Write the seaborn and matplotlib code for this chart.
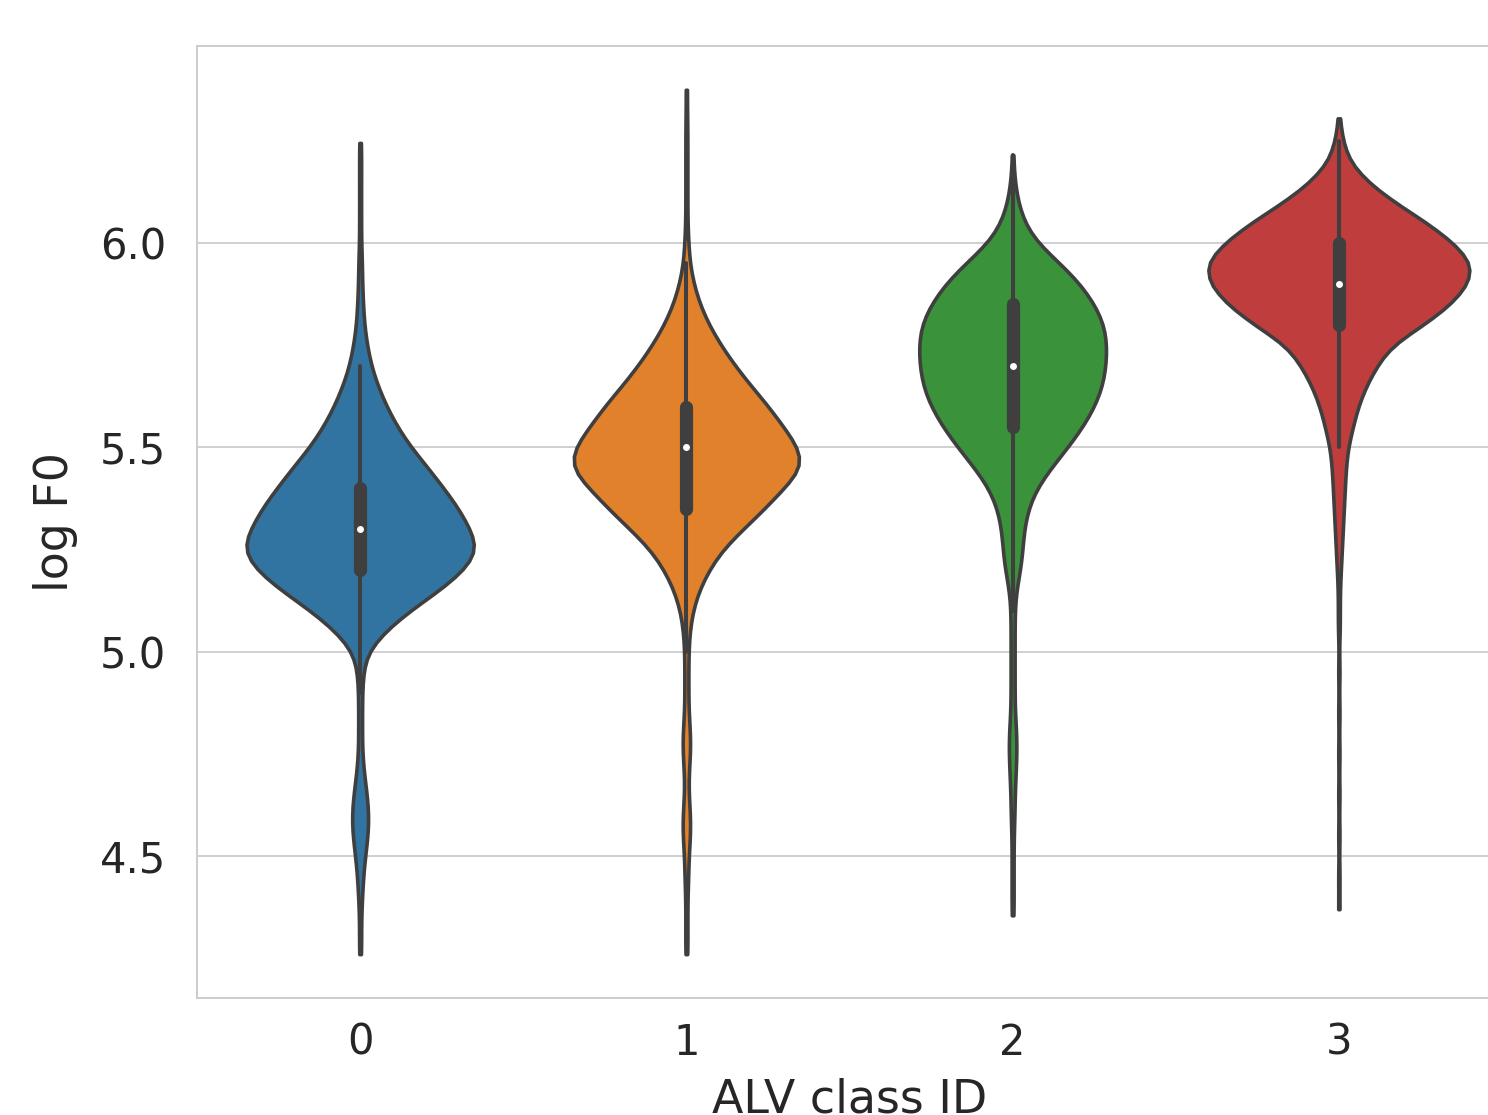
import numpy as np
import pandas as pd
import matplotlib
matplotlib.use("Agg")
import matplotlib.pyplot as plt
from matplotlib.colors import to_rgb
import seaborn as sns

# ==========================================
# DATA: log F0 per ALV class
# values = bin centres, counts = frames in that bin
# ==========================================
classes = ["0", "1", "2", "3"]

class0_logf0 = [4.26, 4.30, 4.35, 4.40, 4.45, 4.50, 4.55, 4.60, 4.65, 4.70, 4.75, 4.80,
                4.85, 4.90, 4.95, 5.00, 5.05, 5.10, 5.15, 5.20, 5.25, 5.30, 5.35, 5.40,
                5.45, 5.50, 5.55, 5.60, 5.65, 5.70, 5.75, 5.80, 5.85, 5.90, 5.95, 6.00,
                6.05, 6.10, 6.15, 6.20, 6.245]
class0_counts = [1, 1, 1, 2, 3, 5, 8, 9, 7, 4, 2, 2,
                 2, 2, 3, 6, 25, 50, 82, 108, 124, 113, 102, 86,
                 70, 52, 38, 27, 18, 11, 7, 4, 3, 2, 2, 1,
                 1, 1, 1, 1, 1]

class1_logf0 = [4.26, 4.30, 4.35, 4.40, 4.45, 4.50, 4.55, 4.60, 4.65, 4.70, 4.75, 4.80,
                4.85, 4.90, 4.95, 5.00, 5.05, 5.10, 5.15, 5.20, 5.25, 5.30, 5.35, 5.40,
                5.45, 5.50, 5.55, 5.60, 5.65, 5.70, 5.75, 5.80, 5.85, 5.90, 5.95, 6.00,
                6.05, 6.10, 6.15, 6.20, 6.25, 6.30, 6.375]
class1_counts = [1, 1, 1, 1, 2, 2, 4, 4, 2, 2, 4, 4,
                 2, 2, 2, 2, 3, 6, 12, 22, 35, 56, 78, 96,
                 118, 112, 96, 82, 64, 48, 34, 22, 13, 7, 3, 2,
                 1, 1, 1, 1, 1, 1, 1]

class2_logf0 = [4.355, 4.40, 4.45, 4.50, 4.55, 4.60, 4.65, 4.70, 4.75, 4.80, 4.85, 4.90,
                4.95, 5.00, 5.05, 5.10, 5.15, 5.20, 5.25, 5.30, 5.35, 5.40, 5.45, 5.50,
                5.55, 5.60, 5.65, 5.70, 5.75, 5.80, 5.85, 5.90, 5.95, 6.00, 6.05, 6.10,
                6.15, 6.215]
class2_counts = [1, 1, 1, 1, 1, 2, 2, 3, 4, 4, 2, 2,
                 2, 2, 2, 2, 3, 8, 10, 11, 15, 23, 38, 55,
                 70, 82, 90, 93, 94, 92, 82, 68, 48, 23, 11, 5,
                 2, 1]

class3_logf0 = [4.37, 4.45, 4.55, 4.65, 4.75, 4.85, 4.95, 5.05, 5.10, 5.15, 5.20, 5.25,
                5.30, 5.35, 5.40, 5.45, 5.50, 5.55, 5.60, 5.65, 5.70, 5.75, 5.80, 5.85,
                5.90, 5.95, 6.00, 6.05, 6.10, 6.15, 6.20, 6.25, 6.305]
class3_counts = [1, 1, 1, 1, 1, 1, 1, 1, 1, 1, 2, 3,
                 4, 5, 6, 7, 9, 14, 19, 27, 38, 52, 85, 112,
                 130, 134, 115, 88, 55, 28, 10, 4, 1]

values = [class0_logf0, class1_logf0, class2_logf0, class3_logf0]
counts = [class0_counts, class1_counts, class2_counts, class3_counts]

df = pd.concat([
    pd.DataFrame({"ALV": c, "logF0": np.repeat(v, n)})
    for c, v, n in zip(classes, values, counts)
], ignore_index=True)

# ==========================================
# PLOT
# ==========================================
sns.set_style("whitegrid")
plt.rcParams.update({
    "font.family": ["DejaVu Sans"],
    "xtick.labelsize": 30,
    "ytick.labelsize": 30,
    "axes.labelsize": 33,
    "xtick.major.size": 0,
    "ytick.major.size": 0,
    "xtick.major.pad": 17,
    "ytick.major.pad": 22,
    "grid.linewidth": 1.4,
    "axes.linewidth": 1.4,
    "grid.color": "#d0d0d0",
    "axes.edgecolor": "#cccccc",
})

fig = plt.figure(figsize=(14.88, 11.15), dpi=100)
ax = fig.add_axes([0.1324, 0.1049, 0.877, 0.8538])

sns.violinplot(
    data=df, x="ALV", y="logF0",
    hue="ALV", order=classes, hue_order=classes,
    palette="tab10", legend=False,
    cut=0, width=0.8, bw_adjust=0.65, common_norm=True,
    linewidth=2.6, linecolor="#3f3f3f",
    inner="box", inner_kws=dict(box_width=9.5, whis_width=2.9),
    ax=ax,
)

# median shown as a small white dot (older seaborn look)
white = (1.0, 1.0, 1.0)
for line in ax.lines:
    if line.get_marker() in (None, "None", ""):
        continue
    if tuple(np.round(to_rgb(line.get_markerfacecolor()), 2)) == white or \
       tuple(np.round(to_rgb(line.get_color()), 2)) == white:
        line.set_marker("o")
        line.set_markersize(5)
        line.set_markeredgewidth(0)
        line.set_markerfacecolor("white")
        line.set_color("white")

ax.set_ylim(4.1526, 6.482)
ax.set_yticks([4.5, 5.0, 5.5, 6.0])
ax.set_xlabel("ALV class ID", labelpad=10)
ax.set_ylabel("log F0", labelpad=16)

fig.savefig("out.png", dpi=100)
